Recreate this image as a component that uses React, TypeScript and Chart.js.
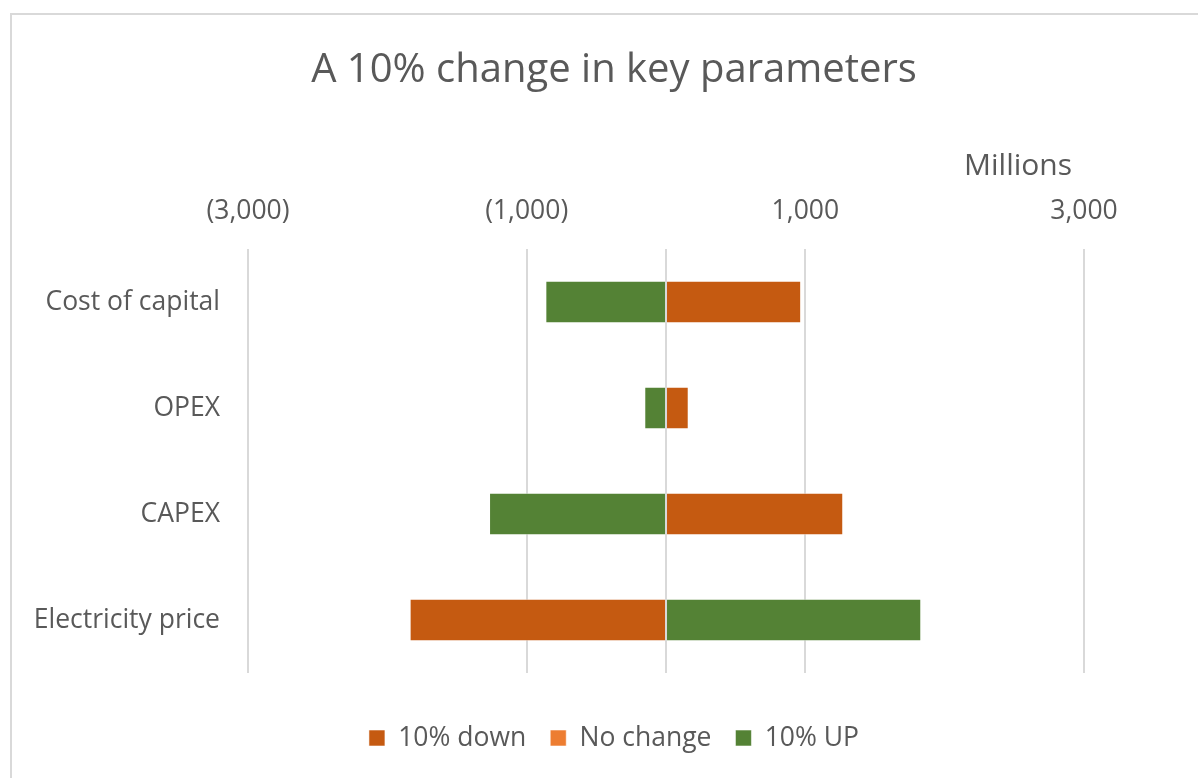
import React, { useEffect, useRef } from "react";
import { Chart, registerables } from "chart.js";

Chart.register(...registerables);

// Sensitivity of the result (in millions) to a 10% move in each input
const categories = ["Cost of capital", "OPEX", "CAPEX", "Electricity price"];
const downValues = [970, 163, 1272, -1840];
const noChangeValues = [0, 0, 0, 0];
const upValues = [-866, -156, -1270, 1832];
const tickValues = [-3000, -1000, 1000, 3000];

const TEXT = "#595959";
const GRID = "#d9d9d9";
const FAMILY = "'Open Sans', 'Noto Sans', sans-serif";
const LABEL_SIZE = 26.5;

function formatMillions(v: number): string {
  const s = Math.abs(v).toLocaleString("en-US");
  return v < 0 ? `(${s})` : s;
}

// Light outline of the chart object
const framePlugin = {
  id: "frame",
  beforeDraw(chart: any) {
    const { ctx, width, height } = chart;
    ctx.save();
    ctx.strokeStyle = GRID;
    ctx.lineWidth = 2;
    ctx.beginPath();
    ctx.moveTo(11, height);
    ctx.lineTo(11, 14);
    ctx.lineTo(width, 14);
    ctx.stroke();
    ctx.restore();
  },
};

// Vertical axis line at zero, drawn above the bars
const zeroLinePlugin = {
  id: "zeroLine",
  afterDatasetsDraw(chart: any) {
    const { ctx, chartArea } = chart;
    const x = chart.scales.x.getPixelForValue(0);
    ctx.save();
    ctx.strokeStyle = GRID;
    ctx.lineWidth = 2;
    ctx.beginPath();
    ctx.moveTo(x, chartArea.top);
    ctx.lineTo(x, chartArea.bottom);
    ctx.stroke();
    ctx.restore();
  },
};

// Display-unit label above the value axis
const unitLabelPlugin = {
  id: "unitLabel",
  afterDraw(chart: any) {
    const { ctx } = chart;
    const xs = chart.scales.x;
    ctx.save();
    ctx.fillStyle = TEXT;
    ctx.font = `30px ${FAMILY}`;
    ctx.textAlign = "center";
    ctx.textBaseline = "alphabetic";
    ctx.fillText("Millions", xs.getPixelForValue(3000) - 66, 175);
    ctx.restore();
  },
};

export default function App() {
  const canvasRef = useRef<HTMLCanvasElement>(null);

  useEffect(() => {
    const barStyle = {
      borderColor: "rgba(255,255,255,0.55)",
      borderWidth: 1,
      borderSkipped: false,
    };
    const chart = new Chart(canvasRef.current as HTMLCanvasElement, {
      type: "bar",
      data: {
        labels: categories,
        datasets: [
          { label: "10% down", data: downValues, backgroundColor: "#C55A11", ...barStyle },
          { label: "No change", data: noChangeValues, backgroundColor: "#ED7D31", ...barStyle },
          { label: "10% UP", data: upValues, backgroundColor: "#548235", ...barStyle },
        ],
      },
      options: {
        indexAxis: "y",
        responsive: false,
        animation: false,
        layout: { padding: { left: 30, right: 0, top: 0, bottom: 16.75 } },
        datasets: { bar: { categoryPercentage: 1, barPercentage: 0.4 } },
        scales: {
          x: {
            position: "top",
            stacked: true,
            min: -3000,
            max: 3818,
            afterBuildTicks: (s: any) => {
              s.ticks = tickValues.map((value) => ({ value }));
            },
            afterFit: (s: any) => {
              s.height = 154;
            },
            grid: { color: GRID, lineWidth: 2, drawTicks: false },
            border: { display: false },
            ticks: {
              padding: 21.5,
              autoSkip: false,
              maxRotation: 0,
              color: TEXT,
              font: { family: FAMILY, size: LABEL_SIZE },
              callback: (v: any) => formatMillions(Number(v)),
            },
          },
          gap: {
            axis: "x",
            type: "linear",
            position: "bottom",
            display: true,
            grid: { display: false, drawTicks: false },
            border: { display: false },
            ticks: { display: false },
            afterFit: (s: any) => {
              s.height = 27.75;
            },
          },
          y: {
            stacked: true,
            afterFit: (s: any) => {
              s.width = 218;
            },
            grid: { display: false, drawTicks: false },
            border: { display: false },
            ticks: {
              padding: 28,
              color: TEXT,
              font: { family: FAMILY, size: LABEL_SIZE },
            },
          },
        },
        plugins: {
          title: {
            display: true,
            text: "A 10% change in key parameters",
            color: TEXT,
            font: { family: FAMILY, size: 40, weight: "normal" },
            padding: { top: 47, bottom: 0 },
          },
          legend: {
            position: "bottom",
            labels: {
              boxWidth: 16,
              boxHeight: 16,
              padding: 24,
              color: TEXT,
              font: { family: FAMILY, size: LABEL_SIZE },
            },
          },
          tooltip: { enabled: false },
        },
      } as any,
      plugins: [framePlugin, zeroLinePlugin, unitLabelPlugin],
    });
    return () => chart.destroy();
  }, []);

  return (
    <div
      style={{
        position: "fixed",
        left: 0,
        top: 0,
        width: 1198,
        height: 778,
        background: "#ffffff",
        overflow: "hidden",
      }}
    >
      <canvas ref={canvasRef} width={1198} height={778} style={{ display: "block" }} />
    </div>
  );
}
